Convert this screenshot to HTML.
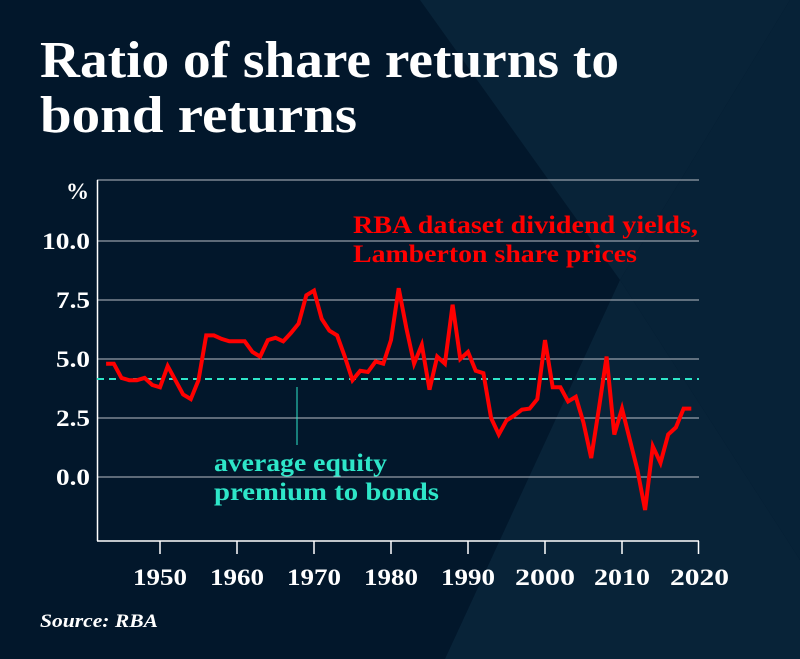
<!DOCTYPE html>
<html><head><style>
html,body{margin:0;padding:0;background:#02172b;}
svg{display:block}
</style></head><body>
<svg width="800" height="659" viewBox="0 0 800 659" xmlns="http://www.w3.org/2000/svg" font-family="Liberation Serif, serif">
<rect width="800" height="659" fill="#02172b"/>
<polygon points="420,0 790,0 620,280" fill="#082338"/>
<polygon points="790,0 800,0 800,560 620,280" fill="#072237"/>
<polygon points="620,280 800,560 800,659 445,659" fill="#082338"/>
<text x="40" y="77" font-size="52" font-weight="bold" fill="#fff" textLength="579" lengthAdjust="spacingAndGlyphs">Ratio of share returns to</text>
<text x="40" y="132" font-size="52" font-weight="bold" fill="#fff" textLength="317" lengthAdjust="spacingAndGlyphs">bond returns</text>
<g stroke="#b8bec6" stroke-width="1">
<line x1="97" y1="180" x2="699" y2="180"/>
<line x1="97" y1="241" x2="699" y2="241"/>
<line x1="97" y1="300" x2="699" y2="300"/>
<line x1="97" y1="359" x2="699" y2="359"/>
<line x1="97" y1="418" x2="699" y2="418"/>
<line x1="97" y1="477" x2="699" y2="477"/>
</g>
<g stroke="#fff" stroke-width="1.5">
<line x1="97.5" y1="180" x2="97.5" y2="541"/>
<line x1="97" y1="541" x2="699" y2="541"/>
<line x1="160" y1="541" x2="160" y2="554"/>
<line x1="237" y1="541" x2="237" y2="554"/>
<line x1="314" y1="541" x2="314" y2="554"/>
<line x1="391" y1="541" x2="391" y2="554"/>
<line x1="468" y1="541" x2="468" y2="554"/>
<line x1="545" y1="541" x2="545" y2="554"/>
<line x1="622" y1="541" x2="622" y2="554"/>
<line x1="698.5" y1="541" x2="698.5" y2="554"/>
</g>
<g fill="#fff" font-size="23" font-weight="bold" text-anchor="end">
<text x="89" y="199">%</text>
<text x="90" y="249" textLength="48" lengthAdjust="spacingAndGlyphs">10.0</text>
<text x="90" y="308" textLength="34" lengthAdjust="spacingAndGlyphs">7.5</text>
<text x="90" y="367" textLength="34" lengthAdjust="spacingAndGlyphs">5.0</text>
<text x="90" y="426" textLength="34" lengthAdjust="spacingAndGlyphs">2.5</text>
<text x="90" y="485" textLength="34" lengthAdjust="spacingAndGlyphs">0.0</text>
</g>
<g fill="#fff" font-size="23" font-weight="bold">
<text x="133" y="585" textLength="54" lengthAdjust="spacingAndGlyphs">1950</text>
<text x="210" y="585" textLength="54" lengthAdjust="spacingAndGlyphs">1960</text>
<text x="287" y="585" textLength="54" lengthAdjust="spacingAndGlyphs">1970</text>
<text x="364" y="585" textLength="54" lengthAdjust="spacingAndGlyphs">1980</text>
<text x="441" y="585" textLength="54" lengthAdjust="spacingAndGlyphs">1990</text>
<text x="515" y="585" textLength="60" lengthAdjust="spacingAndGlyphs">2000</text>
<text x="594" y="585" textLength="56" lengthAdjust="spacingAndGlyphs">2010</text>
<text x="670" y="585" textLength="59" lengthAdjust="spacingAndGlyphs">2020</text>
</g>
<line x1="97" y1="379" x2="699" y2="379" stroke="#2ee6c8" stroke-width="2" stroke-dasharray="7,5"/>
<line x1="297" y1="387" x2="297" y2="445" stroke="#2ee6c8" stroke-width="1"/>
<g fill="#2ee6c8" font-size="25" font-weight="bold">
<text x="214" y="471" textLength="173" lengthAdjust="spacingAndGlyphs">average equity</text>
<text x="214" y="500" textLength="225" lengthAdjust="spacingAndGlyphs">premium to bonds</text>
</g>
<g fill="#ff0000" font-size="25" font-weight="bold">
<text x="353" y="233" textLength="345" lengthAdjust="spacingAndGlyphs">RBA dataset dividend yields,</text>
<text x="353" y="262" textLength="284" lengthAdjust="spacingAndGlyphs">Lamberton share prices</text>
</g>
<polyline fill="none" stroke="#ff0000" stroke-width="4" stroke-linejoin="miter" points="
106.1,363.7 113.8,363.7 121.5,377.9 129.2,380.2 136.9,380.2 144.6,377.9 152.3,385.0 160,387.3 167.7,366.1 175.4,380.2 183.1,394.4 190.8,399.1 198.5,380.2 206.2,335.4 213.9,335.4 221.6,338.9 229.3,341.3 237,341.3 244.7,341.3 252.4,351.9 260.1,356.6 267.8,340.1 275.5,337.8 283.2,341.3 290.9,333.0 298.6,323.6 306.3,295.3 314,290.6 321.7,318.9 329.4,330.7 337.1,335.4 344.8,356.6 352.5,380.2 360.2,370.8 367.9,372.0 375.6,361.4 383.3,363.7 391,340.1 398.7,288.2 406.4,328.3 414.1,363.7 421.8,344.8 429.5,389.7 437.2,356.6 444.9,363.7 452.6,304.7 460.3,359.0 468,351.9 475.7,370.8 483.4,373.2 491.1,418.0 498.8,434.5 506.5,420.4 514.2,415.6 521.9,409.7 529.6,408.6 537.3,399.1 545,340.1 552.7,387.3 560.4,387.3 568.1,401.5 575.8,396.8 583.5,422.7 591.2,458.1 598.9,408.6 606.6,356.6 614.3,434.5 622,408.6 629.7,439.2 637.4,469.9 645.1,510.0 652.8,446.3 660.5,462.8 668.2,434.5 675.9,427.4 683.6,408.6 691.3,408.6"/>
<text x="40" y="627" fill="#fff" font-size="19" font-weight="bold" font-style="italic" textLength="118" lengthAdjust="spacingAndGlyphs">Source: RBA</text>
</svg>
</body></html>
